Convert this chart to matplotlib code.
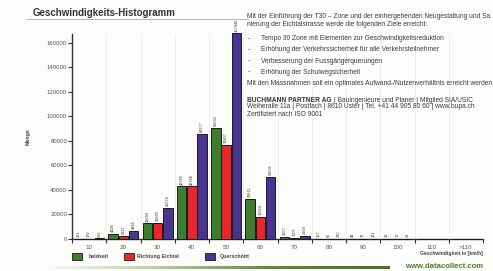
import numpy as np
import matplotlib
matplotlib.use("Agg")
import matplotlib.pyplot as plt
from matplotlib.colors import LinearSegmentedColormap

plt.rcParams['font.family'] = ['Liberation Sans', 'DejaVu Sans']

# data
categories = ['10', '20', '30', '40', '50', '60', '70', '80', '90', '100', '110', '>110']
beidseit = [361, 4228, 12694, 42789, 90633, 32811, 1657, 157, 49, 12, 0, 0]
richtung = [170, 2237, 12880, 42788, 76807, 17824, 1007, 85, 72, 17, 0, 0]
querschnitt = [531, 6465, 25574, 85577, 167440, 50635, 2664, 242, 121, 29, 0, 0]
series_names = ['beidseit', 'Richtung Eichtal', 'Querschnitt']
colors = ['#3c7d2e', '#e8262b', '#4a3491']
yticks = [0, 20000, 40000, 60000, 80000, 100000, 120000, 140000, 160000]

text_lines = [
    "Mit der Einführung der T30 \u2013 Zone und der einhergehenden Neugestaltung und Sa",
    "nierung der Eichtalstrasse werde die folgenden Ziele erreicht:",
]
bullets = [
    "Tempo 30 Zone mit Elementen zur Geschwindigkeitsreduktion",
    "Erhöhung der Verkehrssicherheit für alle Verkehrsteilnehmer",
    "Verbesserung der Fussgängerquerungen",
    "Erhöhung der Schulwegsicherheit",
]
closing = "Mit den Massnahmen soll ein optimales Aufwand-/Nutzenverhältnis erreicht werden"

W, H = 493, 271
fig = plt.figure(figsize=(W / 100, H / 100), dpi=100)
fig.patch.set_facecolor('#fdfdfb')


def fx(px):
    return px / W


def fy(py):
    return 1 - py / H


# main axes: x 72..483, y 239 (zero) .. 33
ax = fig.add_axes([fx(72), fy(239), fx(483) - fx(72), (239 - 34) / H])
ax.set_facecolor('none')
ymax = 167000
ax.set_ylim(0, ymax)
ax.set_xlim(-0.5, len(categories) - 0.5)

x = np.arange(len(categories))
bw = 0.28
offs = [-0.3, 0.0, 0.3]
for vals, off, c in zip([beidseit, richtung, querschnitt], offs, colors):
    ax.bar(x + off, vals, width=bw, color=c, edgecolor='#1a1a1a', linewidth=0.7,
           clip_on=False, zorder=3)
    for xi, v in zip(x, vals):
        if v > 0:
            ax.text(xi + off, v + 1500, str(v), rotation=90, ha='center', va='bottom',
                    fontsize=2.8, color='#333333', clip_on=False, zorder=4)

for s in ['top', 'right']:
    ax.spines[s].set_visible(False)
ax.spines['left'].set_linewidth(1.0)
ax.spines['bottom'].set_linewidth(1.0)
ax.spines['left'].set_color('#333333')
ax.spines['bottom'].set_color('#333333')

ax.set_yticks(yticks)
ax.set_yticklabels([str(v) for v in yticks], fontsize=4.3, color='#555555')
ax.tick_params(axis='y', length=3, width=0.8, pad=0.5, colors='#333333', labelcolor='#555555')

bounds = np.arange(-0.5, len(categories), 1.0)
ax.set_xticks(bounds)
ax.set_xticklabels([])
ax.tick_params(axis='x', length=3, width=0.8, colors='#333333')
ax.set_xticks(x, minor=True)
ax.set_xticklabels(categories, minor=True, fontsize=4.5, color='#555555')
ax.tick_params(axis='x', which='minor', length=0, pad=4)
ax.grid(axis='x', which='major', color='#ececec', linewidth=0.6, zorder=0)

ax.set_ylabel('Menge', fontsize=3.8, fontweight='bold', color='#444444', labelpad=4)
ax.yaxis.set_label_coords(-0.1, 0.5)

# title and underline
fig.text(fx(33), fy(13), 'Geschwindigkeits-Histogramm', fontsize=7, fontweight='bold',
         color='#333333', va='center', ha='left')
fig.add_artist(plt.Line2D([fx(27), fx(248)], [fy(18.5), fy(18.5)], color='#b8b8b8', lw=0.8))

# text block
tc = '#3a3a3a'
fs = 4.75
fig.text(fx(247), fy(17), text_lines[0], fontsize=fs, color=tc, va='center')
fig.text(fx(247), fy(24.5), text_lines[1], fontsize=fs, color=tc, va='center')
for i, b in enumerate(bullets):
    yy = 39 + i * 11
    fig.text(fx(248), fy(yy), '-', fontsize=fs, color=tc, va='center')
    fig.text(fx(261), fy(yy), b, fontsize=fs, color=tc, va='center')
fig.text(fx(247), fy(83), closing, fontsize=fs, color=tc, va='center')
bold = fig.text(fx(247), fy(100), 'BUCHMANN PARTNER AG', fontsize=fs, color='#333333',
                fontweight='bold', va='center')
fig.add_artist(plt.Annotation(' | Bauingenieure und Planer | Mitglied SIA/USIC', xy=(1, 0.5),
                              xycoords=bold, va='center', ha='left', fontsize=fs, color=tc))
fig.text(fx(247), fy(107), 'Weiheralle 11a | Postfach | 8610 Uster | Tel. +41 44 905 80 60 | www.bupa.ch',
         fontsize=fs, color=tc, va='center')
fig.text(fx(247), fy(114), 'Zertifiziert nach ISO 9001', fontsize=fs, color=tc, va='center')

# legend
leg_x = [72, 124, 205]
leg_tx = [89, 137, 220]
for lx, tx, name, c in zip(leg_x, leg_tx, series_names, colors):
    fig.patches.append(plt.Rectangle((fx(lx), fy(260)), 10 / W, 7 / H, transform=fig.transFigure,
                                     facecolor=c, edgecolor='#1a1a1a', linewidth=0.6))
    fig.text(fx(tx), fy(256.5), name, fontsize=3.8, fontweight='bold', color='#444444',
             va='center')

fig.text(fx(483), fy(253), 'Geschwindigkeit in [km/h]', fontsize=3.6, fontweight='bold',
         color='#444444', ha='right', va='center')

# green gradient bar and footer
gax = fig.add_axes([fx(40), fy(268.5), fx(390) - fx(40), 3 / H])
gax.axis('off')
cmap = LinearSegmentedColormap.from_list('g', ['#fdfdfb', '#b9d09a', '#5e8a3a', '#44702a'])
gax.imshow(np.linspace(0, 1, 256)[None, :], aspect='auto', cmap=cmap)
fig.text(fx(483), fy(266.5), 'www.datacollect.com', fontsize=5.6, fontweight='bold',
         color='#4a7d2c', ha='right', va='center')

fig.savefig('out.png', dpi=100, facecolor=fig.get_facecolor())
